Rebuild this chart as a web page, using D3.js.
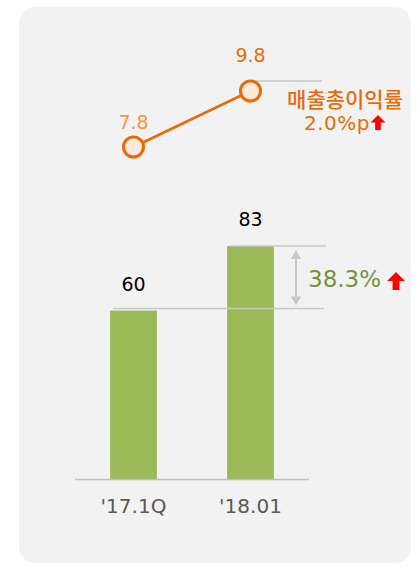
<!DOCTYPE html>
<html>
<head>
<meta charset="utf-8">
<script src="https://cdn.jsdelivr.net/npm/d3@7"></script>
<style>
  body { margin: 0; background: #fff; }
  svg { display: block; }
</style>
</head>
<body>
<div id="chart"></div>
<script>
// data
const categories = ["'17.1Q", "'18.01"];
const sales = [60, 83];
const margin_rate = [7.8, 9.8];
const sales_growth = "38.3%";
const margin_title = "매출총이익률";
const margin_growth = "2.0%p";

const width = 418, height = 566;
const num_font = "'DejaVu Sans', sans-serif";
const kr_font = "'Noto Sans CJK KR', sans-serif";

var svg = d3.select("#chart").append("svg")
    .attr("width", width)
    .attr("height", height);

// panel
svg.append("rect")
    .attr("x", 19).attr("y", 7)
    .attr("width", 392).attr("height", 556)
    .attr("rx", 16).attr("ry", 16)
    .attr("fill", "#f2f2f2");

var x_scale = d3.scaleBand()
    .domain(categories)
    .range([75, 309])
    .padding(0);

var bar_w = x_scale.bandwidth() * 0.4;
var cx = function (c) { return x_scale(c) + x_scale.bandwidth() / 2; };

var y_bar = d3.scaleLinear().domain([0, 83]).range([479, 246]);
var y_line = d3.scaleLinear().domain([7.8, 9.8]).range([147, 91]);

// bars
svg.selectAll(".bar")
    .data(sales)
    .enter()
    .append("rect")
    .attr("class", "bar")
    .attr("x", function (d, i) { return cx(categories[i]) - bar_w / 2; })
    .attr("y", function (d) { return y_bar(d); })
    .attr("width", bar_w)
    .attr("height", function (d) { return y_bar(0) - y_bar(d); })
    .attr("fill", "#9bbb59");

// baseline
svg.append("line")
    .attr("x1", 75).attr("x2", 309)
    .attr("y1", y_bar(0) + 0.5).attr("y2", y_bar(0) + 0.5)
    .attr("stroke", "#bfbfbf").attr("stroke-width", 1.5);

// category labels
svg.selectAll(".cat")
    .data(categories)
    .enter()
    .append("text")
    .attr("x", function (d) { return cx(d); })
    .attr("y", 513)
    .attr("text-anchor", "middle")
    .attr("font-family", num_font)
    .attr("font-size", 20)
    .attr("fill", "#595959")
    .text(function (d) { return d; });

// bar value labels
svg.selectAll(".bar_lbl")
    .data(sales)
    .enter()
    .append("text")
    .attr("x", function (d, i) { return cx(categories[i]); })
    .attr("y", function (d) { return y_bar(d) - 20; })
    .attr("text-anchor", "middle")
    .attr("font-family", num_font)
    .attr("font-size", 19)
    .attr("fill", "#000")
    .text(function (d) { return d; });

// guide lines for growth
svg.append("line")
    .attr("x1", cx(categories[1]) - bar_w / 2 + 3).attr("x2", 326)
    .attr("y1", y_bar(sales[1])).attr("y2", y_bar(sales[1]))
    .attr("stroke", "#c8c8c8").attr("stroke-width", 1.5);
svg.append("line")
    .attr("x1", cx(categories[0]) - bar_w / 2 + 3).attr("x2", 324)
    .attr("y1", y_bar(sales[0]) - 2).attr("y2", y_bar(sales[0]) - 2)
    .attr("stroke", "#c8c8c8").attr("stroke-width", 1.5);

// double arrow
var ax = 296, ay1 = y_bar(sales[1]) + 4, ay2 = y_bar(sales[0]) - 5;
svg.append("line")
    .attr("x1", ax).attr("x2", ax)
    .attr("y1", ay1 + 6).attr("y2", ay2 - 6)
    .attr("stroke", "#c8c8c8").attr("stroke-width", 2);
svg.append("path")
    .attr("d", "M" + ax + "," + ay1 + " l-5,9 h10 z")
    .attr("fill", "#c8c8c8");
svg.append("path")
    .attr("d", "M" + ax + "," + ay2 + " l-5,-9 h10 z")
    .attr("fill", "#c8c8c8");

// red up arrow, x: center, y: top, s: size
function up_arrow(x, y, s) {
    var h = s / 2;
    svg.append("path")
        .attr("d", "M" + x + "," + y + " l" + h + "," + h + " h" + (-h * 0.62) +
            " v" + h + " h" + (-h * 0.76) + " v" + (-h) + " h" + (-h * 0.62) + " z")
        .attr("fill", "#ff0000");
}

svg.append("text")
    .attr("x", 308)
    .attr("y", 287)
    .attr("font-family", num_font)
    .attr("font-size", 23)
    .attr("fill", "#77933c")
    .text(sales_growth);
up_arrow(396, 272, 18);

// margin line
var line = d3.line()
    .x(function (d, i) { return cx(categories[i]); })
    .y(function (d) { return y_line(d); });

svg.append("path")
    .datum(margin_rate)
    .attr("d", line)
    .attr("fill", "none")
    .attr("stroke", "#e46c0a")
    .attr("stroke-width", 2.5);

svg.append("line")
    .attr("x1", cx(categories[1])).attr("x2", 322)
    .attr("y1", y_line(margin_rate[1]) - 10).attr("y2", y_line(margin_rate[1]) - 10)
    .attr("stroke", "#c8c8c8").attr("stroke-width", 1.5);

svg.selectAll(".pt")
    .data(margin_rate)
    .enter()
    .append("circle")
    .attr("cx", function (d, i) { return cx(categories[i]); })
    .attr("cy", function (d) { return y_line(d); })
    .attr("r", 10)
    .attr("fill", "#fde9d9")
    .attr("stroke", "#e46c0a")
    .attr("stroke-width", 3);

var pt_colors = ["#f79646", "#e46c0a"];
var pt_dy = [-18, -29];
svg.selectAll(".pt_lbl")
    .data(margin_rate)
    .enter()
    .append("text")
    .attr("x", function (d, i) { return cx(categories[i]); })
    .attr("y", function (d, i) { return y_line(d) + pt_dy[i]; })
    .attr("text-anchor", "middle")
    .attr("font-family", num_font)
    .attr("font-size", 19)
    .attr("fill", function (d, i) { return pt_colors[i]; })
    .text(function (d) { return d3.format(".1f")(d); });

svg.append("text")
    .attr("x", 403)
    .attr("y", 107)
    .attr("text-anchor", "end")
    .attr("font-family", kr_font)
    .attr("font-size", 21)
    .attr("font-weight", 500)
    .attr("fill", "#e46c0a")
    .text(margin_title);
svg.append("text")
    .attr("x", 370)
    .attr("y", 130)
    .attr("text-anchor", "end")
    .attr("font-family", num_font)
    .attr("font-size", 20)
    .attr("letter-spacing", 0.5)
    .attr("fill", "#e46c0a")
    .text(margin_growth);
up_arrow(378, 115, 15);
</script>
</body>
</html>
